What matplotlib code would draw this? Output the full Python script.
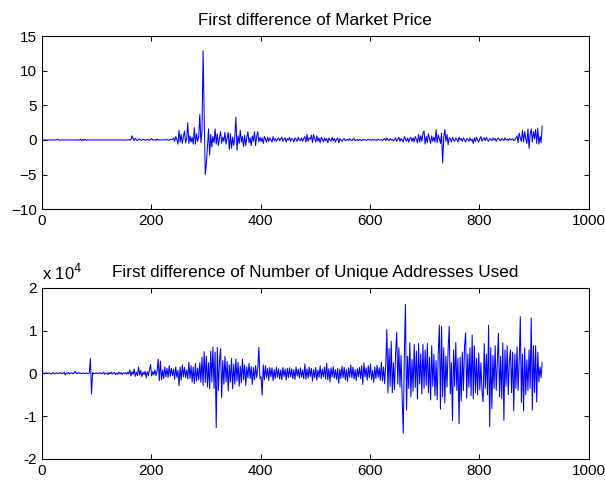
#importing packages
import matplotlib.pyplot as plt
import matplotlib.ticker as mticker
import numpy as np

plt.rcParams['font.family'] = ['Liberation Sans', 'DejaVu Sans']

#sample index (every second day)
days = np.arange(1, 916, 2)

#first difference of market price
priceDiff = [
    0, 0, 0.01, 0, 0, -0.01, 0, 0, 0.01, 0,
    0, 0, 0.02, 0, 0.12, 0, -0.02, 0, 0, 0.01,
    0, 0, -0.01, 0, 0, 0.01, 0, 0, 0, 0.02,
    0, 0, 0.03, -0.05, 0, 0.12, -0.1, 0.08, -0.06, 0.1,
    -0.05, 0, 0.02, 0, 0, -0.01, 0, 0, 0.01, 0,
    0, 0.01, 0, 0, -0.01, 0, 0, 0.01, 0, 0,
    0, 0, 0.01, 0, 0, 0, -0.01, 0, 0.01, 0,
    0, 0, 0.02, 0, 0, 0.01, 0, -0.01, 0.02, 0,
    0.05, 0, 0.6, 0.2, -0.1, 0.25, 0.05, -0.1, 0.1, 0.15,
    0, -0.05, 0.1, 0.05, -0.05, 0, 0.1, 0, -0.05, 0.05,
    0.2, 0, 0, 0.05, -0.05, 0.15, 0, 0.02, 0, 0.05,
    -0.03, 0, 0.05, 0, 0.08, -0.05, 0, 0.1, 0.05, 0.1,
    0.3, -0.2, 0.5, 0.1, -0.6, 1.4, -0.3, 0.8, -0.5, 0.5,
    1.3, -0.4, 0.2, 2.5, -0.5, 0.6, -0.3, 0.4, -0.6, 1.8,
    -0.6, 0.9, -0.2, 0.5, 3.7, -0.4, 1.2, 12.9, 3.4, -5.0,
    -3.5, -1.0, 1.6, -2.2, 0.8, -1.0, 0.5, -0.4, 1.6, -0.6,
    0.9, -0.8, 0.3, 1.2, -0.5, 0.4, -0.2, 1.1, -0.6, 0.3,
    1.1, -1.4, 0.9, -1.2, 0.4, -0.8, 0.5, 3.3, -1.5, 0.6,
    -0.5, 1.4, -0.3, 0.5, -1.0, 0.7, -0.8, 0.4, 1.2, -0.4,
    0.3, -0.8, 0.6, -0.2, 1.2, -0.8, 0.5, 1.2, -0.3, 0.4,
    -0.2, 0.3, -0.5, 0.5, 0.1, -0.3, 0.4, -0.2, 0.3, 0.0,
    -0.3, 0.5, -0.1, 0.2, -0.2, 0.1, 0.3, -0.1, 0.2, 0.4,
    -0.2, 0.1, 0.3, -0.3, 0.2, 0.0, 0.4, -0.2, 0.2, 0.1,
    -0.3, 0.3, 0.1, -0.2, 0.4, 0.0, -0.1, 0.3, -0.2, 0.2,
    0.5, -0.3, 0.8, -0.2, 0.3, 0.1, 0.7, -0.4, 0.8, 0.2,
    -0.3, 0.6, -0.2, 0.3, -0.4, 0.4, 0.1, -0.3, 0.3, -0.1,
    0.2, -0.4, 0.3, 0.0, -0.2, 0.4, -0.1, 0.2, -0.3, 0.1,
    0.3, -0.4, 0.2, 0.0, -0.2, 0.1, 0.2, -0.1, 0.0, 0.1,
    -0.1, 0.2, 0.0, -0.1, 0.1, 0.2, -0.1, 0.0, 0.1, -0.1,
    0.1, 0.0, -0.1, 0.1, 0.0, 0.05, -0.05, 0.0, 0.1, 0.0,
    0.05, -0.05, 0.1, 0.0, 0.0, 0.05, -0.05, 0.1, 0.0, 0.0,
    0.05, -0.1, 0.1, 0.2, -0.1, 0.3, 0.0, -0.1, 0.2, 0.0,
    0.1, -0.1, 0.0, 0.3, -0.2, 0.1, 0.4, -0.2, 0.2, 0.0,
    -0.3, 0.5, 0.1, -0.2, 0.3, -0.3, 0.2, 0.4, -0.2, 0.3,
    -0.3, 0.5, 0.1, -0.4, 0.8, -0.3, 0.6, -0.2, 1.0, 1.3,
    -0.6, 0.5, -0.4, 0.9, 0.2, -0.5, 0.6, -0.2, 0.4, -0.3,
    1.5, -0.4, 0.7, 0.2, -0.5, 1.0, -3.3, 0.4, 1.5, -0.2,
    0.8, -0.7, 0.3, 0.2, -0.3, 0.4, 0.0, -0.2, 0.3, 0.1,
    -0.3, 0.4, 0.0, 0.2, -0.2, 0.3, 0.0, -0.3, 0.2, 0.1,
    -0.2, 0.3, -0.1, 0.1, -0.5, 0.3, -0.2, 0.4, 0.0, -0.3,
    0.2, 0.5, -0.2, 0.1, 0.3, -0.1, 0.4, 0.0, -0.2, 0.2,
    0.1, -0.1, 0.3, 0.0, 0.2, -0.2, 0.1, 0.3, 0.0, -0.1,
    0.2, 0.1, -0.1, 0.3, 0.0, 0.1, -0.1, 0.2, 0.0, 0.1,
    0.2, -0.1, 0.0, 0.3, 0.6, -0.4, 1.0, 0.3, -0.2, 1.4,
    -0.3, 1.2, 0.2, -0.5, 1.6, -1.2, 0.8, 1.6, -0.3, 1.2,
    0.2, 1.5, -0.5, 1.7, -0.6, 0.5, -0.4, 2.0,
]

#first difference of number of unique addresses used
addressDiff = [
    0, 100, -100, 50, 150, -50, 100, 0, -150, 50,
    200, -100, 0, 150, -50, 100, 0, 200, -100, 50,
    300, -400, 100, 0, 200, -100, 50, 150, -100, 100,
    500, 100, -50, 200, 0, 100, -100, 50, 100, -50,
    100, 0, -100, 150, 3500, -4800, 200, -100, 0, 150,
    -50, 100, 0, 200, -100, 50, 300, -200, 0, 100,
    -300, 200, -100, 300, -150, 100, 200, -300, 100, -200,
    300, -100, 200, -300, 100, 0, 200, -200, 300, -100,
    800, -600, 400, -200, 1000, -700, 300, -500, 1500, -400,
    700, -800, 300, -300, 500, -1000, 400, -500, 900, 2100,
    -600, 400, -300, 800, -500, 600, 3300, -1700, 2900, -1500,
    800, -1200, 1500, -800, 1200, -1000, 1800, -700, 1200, -500,
    1000, -1400, 1500, -900, 700, -2900, 1500, -1600, 2000, -800,
    1400, -1000, 800, -1300, 2600, -1200, 1800, -2000, 1500, -2400,
    2300, -1800, 1200, -1500, 2500, -2100, 3800, -2800, 5100, -2100,
    4000, -3200, 2500, -3600, 5200, -2000, 6200, -3500, 5000, -12700,
    6100, -4000, 3000, 5800, -5700, 3000, -2500, 4000, -2000, 2800,
    -4100, 2000, -2000, 3500, -3600, 2200, -2500, 3400, -1800, 2600,
    -3000, 1700, -2200, 3300, -1500, 2000, -2800, 1500, -1000, 2400,
    -1200, 1600, -2600, 1400, -1500, 1800, -1000, 1200, 6100, -1200,
    -800, -5100, 2000, -1500, 1800, -1000, 1200, -1600, 1400, -800,
    1300, -1700, 900, -1200, 1500, -900, 1100, -1300, 800, -1500,
    1400, -700, 1000, -1600, 1200, -1000, 1300, -800, 1100, -1200,
    900, -1400, 1500, -600, 1000, -1100, 1300, -900, 800, -1200,
    2200, -1400, 1000, -1100, 1500, -700, 1200, -1800, 900, -1000,
    1400, -1600, 800, -900, 1800, -1200, 1000, -800, 1500, -1300,
    2400, -1500, 1100, -2000, 1300, -800, 1600, -1100, 900, -1400,
    1200, -2300, 1000, -1200, 1700, -1000, 1400, -1500, 900, -1900,
    1300, -900, 2000, -1000, 1500, -1300, 900, -1700, 1100, -800,
    1400, -1200, 1800, -2600, 2500, -800, 1300, -1600, 1800, -1000,
    2200, -1400, 700, -2100, 1500, -1200, 1900, -900, 1300, -1600,
    2600, -1800, 1500, -2400, 2200, 10300, -4600, 5800, -3000, 7500,
    -4500, 2500, -3800, 4800, 9600, -2500, 6000, -3200, 4200, -6000,
    -14000, 4500, 16200, -8600, 4000, -3500, 7200, -5500, 3300, -4200,
    6800, -3300, 5200, -6000, 7000, -2500, 4500, -4800, 6800, -3500,
    5500, -2800, 7000, -4500, 3800, -6200, 6500, -3000, 4500, -5200,
    3000, -6200, 4800, 11300, -8400, 11000, -5500, 6000, -6900, 4000,
    -3200, 5500, 11000, -4800, 2500, -11000, 5500, -3000, 7200, -4000,
    3500, -11800, 3800, -6500, 5000, -4000, 6200, 9500, -5800, 4500,
    -3200, 6000, -5200, 9000, -6000, 6500, -4500, 3500, -5000, 4800,
    -3800, 2500, -4200, -6700, 7000, -3500, 4500, -5000, 11300, -12500,
    6000, -8200, 4200, -3500, 6500, -4000, 3000, 9400, -5500, 4000,
    -6000, 7200, -11000, 5500, -3000, 6500, -5000, 3000, 5500, -4500,
    5000, -8800, 4500, -3500, 6200, -4000, 3000, 13300, -6800, 4500,
    -8800, 6000, -5000, 3200, -4000, 5500, -3500, 13000, -8600, 6500,
    -4500, 6500, -6700, 5000, -2000, 1500, -1000, 2500,
]

fig = plt.figure(figsize=(6.05, 4.84), dpi=100)
ax1 = fig.add_axes([0.069, 0.568, 0.904, 0.357])
ax2 = fig.add_axes([0.069, 0.052, 0.904, 0.353])

ax1.plot(days, priceDiff, color='#0000ff', linewidth=0.75)
ax1.set_title('First difference of Market Price', fontsize=12.3, pad=8)
ax1.set_xlim(0, 1000)
ax1.set_ylim(-10, 15)
ax1.set_yticks([-10, -5, 0, 5, 10, 15])

ax2.plot(days, addressDiff, color='#0000ff', linewidth=0.75)
ax2.set_title('First difference of Number of Unique Addresses Used', fontsize=12.3, pad=8)
ax2.set_xlim(0, 1000)
ax2.set_ylim(-20000, 20000)
ax2.set_yticks([-20000, -10000, 0, 10000, 20000])
ax2.yaxis.set_major_formatter(mticker.FuncFormatter(lambda v, p: '%g' % (v / 1e4)))
ax2.text(0.0, 1.03, 'x 10$^{4}$', transform=ax2.transAxes, fontsize=12, ha='left', va='bottom')

for ax in (ax1, ax2):
    ax.set_xticks([0, 200, 400, 600, 800, 1000])
    ax.tick_params(direction='in', top=True, right=True, length=3.5, width=0.7, labelsize=11)
    for s in ax.spines.values():
        s.set_linewidth(0.8)

plt.savefig('out.png', dpi=100)
